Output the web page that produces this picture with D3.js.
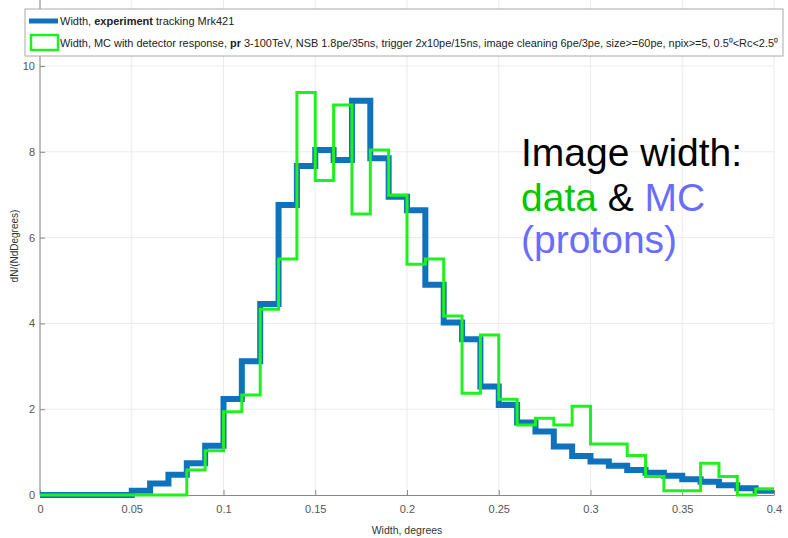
<!DOCTYPE html>
<html>
<head>
<meta charset="utf-8">
<script src="https://cdn.jsdelivr.net/npm/d3@7"></script>
<style>
  body { margin: 0; background: #fff; }
  svg { display: block; font-family: "Liberation Sans", Arial, sans-serif; }
</style>
</head>
<body>
<svg width="788" height="538"></svg>
<script>
const svg = d3.select('svg');

// bin edges: 40 bins of 0.01 degrees from 0 to 0.4
const binWidth = 0.01;

// experiment (Mrk421 tracking), dN/(N dDegrees)
const experiment = [
  0, 0, 0, 0, 0, 0.1, 0.27, 0.47, 0.74, 1.15,
  2.24, 3.12, 4.45, 6.76, 7.67, 8.04, 7.81, 9.19, 7.85, 6.95,
  6.64, 4.9, 4.02, 3.63, 2.53, 2.1, 1.69, 1.48, 1.13, 0.91,
  0.78, 0.68, 0.58, 0.52, 0.45, 0.37, 0.31, 0.23, 0.16, 0.1
];

// MC protons with detector response
const mcProtons = [
  0, 0, 0, 0, 0, 0, 0, 0, 0.58, 1.03,
  1.94, 2.33, 4.33, 5.5, 9.38, 7.33, 9.09, 6.55, 8.04, 6.99,
  5.38, 5.5, 4.17, 2.37, 3.73, 2.23, 1.63, 1.79, 1.63, 2.07,
  1.19, 1.19, 0.92, 0.43, 0.1, 0.1, 0.74, 0.43, 0.0, 0.14
];

const xTicks = [0, 0.05, 0.1, 0.15, 0.2, 0.25, 0.3, 0.35, 0.4];
const yTicks = [0, 2, 4, 6, 8, 10];

const x = d3.scaleLinear().domain([0, 0.4]).range([40, 774]);
const y = d3.scaleLinear().domain([0, 10]).range([495, 66]);
const plotTop = 0; // the plot box is cut off above the legend

// grid
const grid = svg.append('g');
grid.selectAll('.vg').data(xTicks).enter().append('line')
  .attr('x1', d => x(d)).attr('x2', d => x(d))
  .attr('y1', plotTop).attr('y2', y(0))
  .attr('stroke', '#ebebeb').attr('stroke-width', 1);
grid.selectAll('.hg').data(yTicks.filter(d => d > 0)).enter().append('line')
  .attr('x1', x(0)).attr('x2', x(0.4))
  .attr('y1', d => y(d)).attr('y2', d => y(d))
  .attr('stroke', '#ebebeb').attr('stroke-width', 1);

// axes
const xAxis = svg.append('g')
  .attr('transform', `translate(0,${y(0)})`)
  .call(d3.axisBottom(x).tickValues(xTicks).tickFormat(d3.format('')).tickSizeInner(-5).tickSizeOuter(0).tickPadding(10));
xAxis.select('.domain').attr('stroke', '#888');
xAxis.selectAll('.tick line').attr('stroke', '#888');
xAxis.selectAll('text').attr('fill', '#555').attr('font-size', 11);

const yAxis = svg.append('g')
  .attr('transform', `translate(${x(0)},0)`)
  .call(d3.axisLeft(y).tickValues(yTicks).tickSizeInner(-5).tickSizeOuter(0).tickPadding(5));
yAxis.select('.domain').remove();
yAxis.append('line').attr('x1', 0).attr('x2', 0).attr('y1', plotTop).attr('y2', y(0)).attr('stroke', '#888');
yAxis.selectAll('.tick line').attr('stroke', '#888');
yAxis.selectAll('text').attr('fill', '#555').attr('font-size', 11);

// histograms as step lines
const stepPoints = vals => {
  const pts = vals.map((v, i) => [i * binWidth, v]);
  pts.push([vals.length * binWidth, vals[vals.length - 1]]);
  return pts;
};
const line = d3.line().x(d => x(d[0])).y(d => y(d[1])).curve(d3.curveStepAfter);

svg.append('path').datum(stepPoints(experiment))
  .attr('d', line).attr('fill', 'none')
  .attr('stroke', '#0f72bd').attr('stroke-width', 6);

svg.append('path').datum(stepPoints(mcProtons))
  .attr('d', line).attr('fill', 'none')
  .attr('stroke', '#1ef21e').attr('stroke-width', 3);

// axis labels
svg.append('text').attr('x', 407).attr('y', 534).attr('text-anchor', 'middle')
  .attr('font-size', 10.5).attr('fill', '#333').text('Width, degrees');
svg.append('text').attr('transform', 'translate(18,246) rotate(-90)').attr('text-anchor', 'middle')
  .attr('font-size', 10).attr('fill', '#333').text('dN/(NdDegrees)');

// legend
const legend = svg.append('g');
legend.append('rect').attr('x', 25).attr('y', 9).attr('width', 758).attr('height', 47)
  .attr('fill', '#fff').attr('stroke', '#aaa').attr('stroke-width', 1);
legend.append('line').attr('x1', 29).attr('x2', 58).attr('y1', 21).attr('y2', 21)
  .attr('stroke', '#0f72bd').attr('stroke-width', 5);
legend.append('rect').attr('x', 31).attr('y', 35).attr('width', 27).attr('height', 15)
  .attr('fill', '#fff').attr('stroke', '#1ef21e').attr('stroke-width', 2.5);

const row1 = legend.append('text').attr('x', 60).attr('y', 25).attr('font-size', 11).attr('fill', '#222');
row1.append('tspan').text('Width, ');
row1.append('tspan').attr('font-weight', 'bold').text('experiment');
row1.append('tspan').text(' tracking Mrk421');

const row2 = legend.append('text').attr('x', 60).attr('y', 47).attr('font-size', 11).attr('fill', '#222')
  .attr('textLength', 718).attr('lengthAdjust', 'spacingAndGlyphs');
row2.append('tspan').text('Width, MC with detector response, ');
row2.append('tspan').attr('font-weight', 'bold').text('pr');
row2.append('tspan').text(' 3-100TeV, NSB 1.8pe/35ns, trigger 2x10pe/15ns, image cleaning 6pe/3pe, size>=60pe, npix>=5, 0.5\u2070<Rc<2.5\u2070');

// annotation
const note = svg.append('text').attr('font-size', 39);
note.append('tspan').attr('x', 521).attr('y', 166).attr('fill', '#000').text('Image width:');
note.append('tspan').attr('x', 521).attr('y', 211).attr('fill', '#00c800').text('data');
note.append('tspan').attr('fill', '#000').text(' & ');
note.append('tspan').attr('fill', '#6b6bff').text('MC');
note.append('tspan').attr('x', 521).attr('y', 253).attr('fill', '#6b6bff').text('(protons)');
</script>
</body>
</html>
